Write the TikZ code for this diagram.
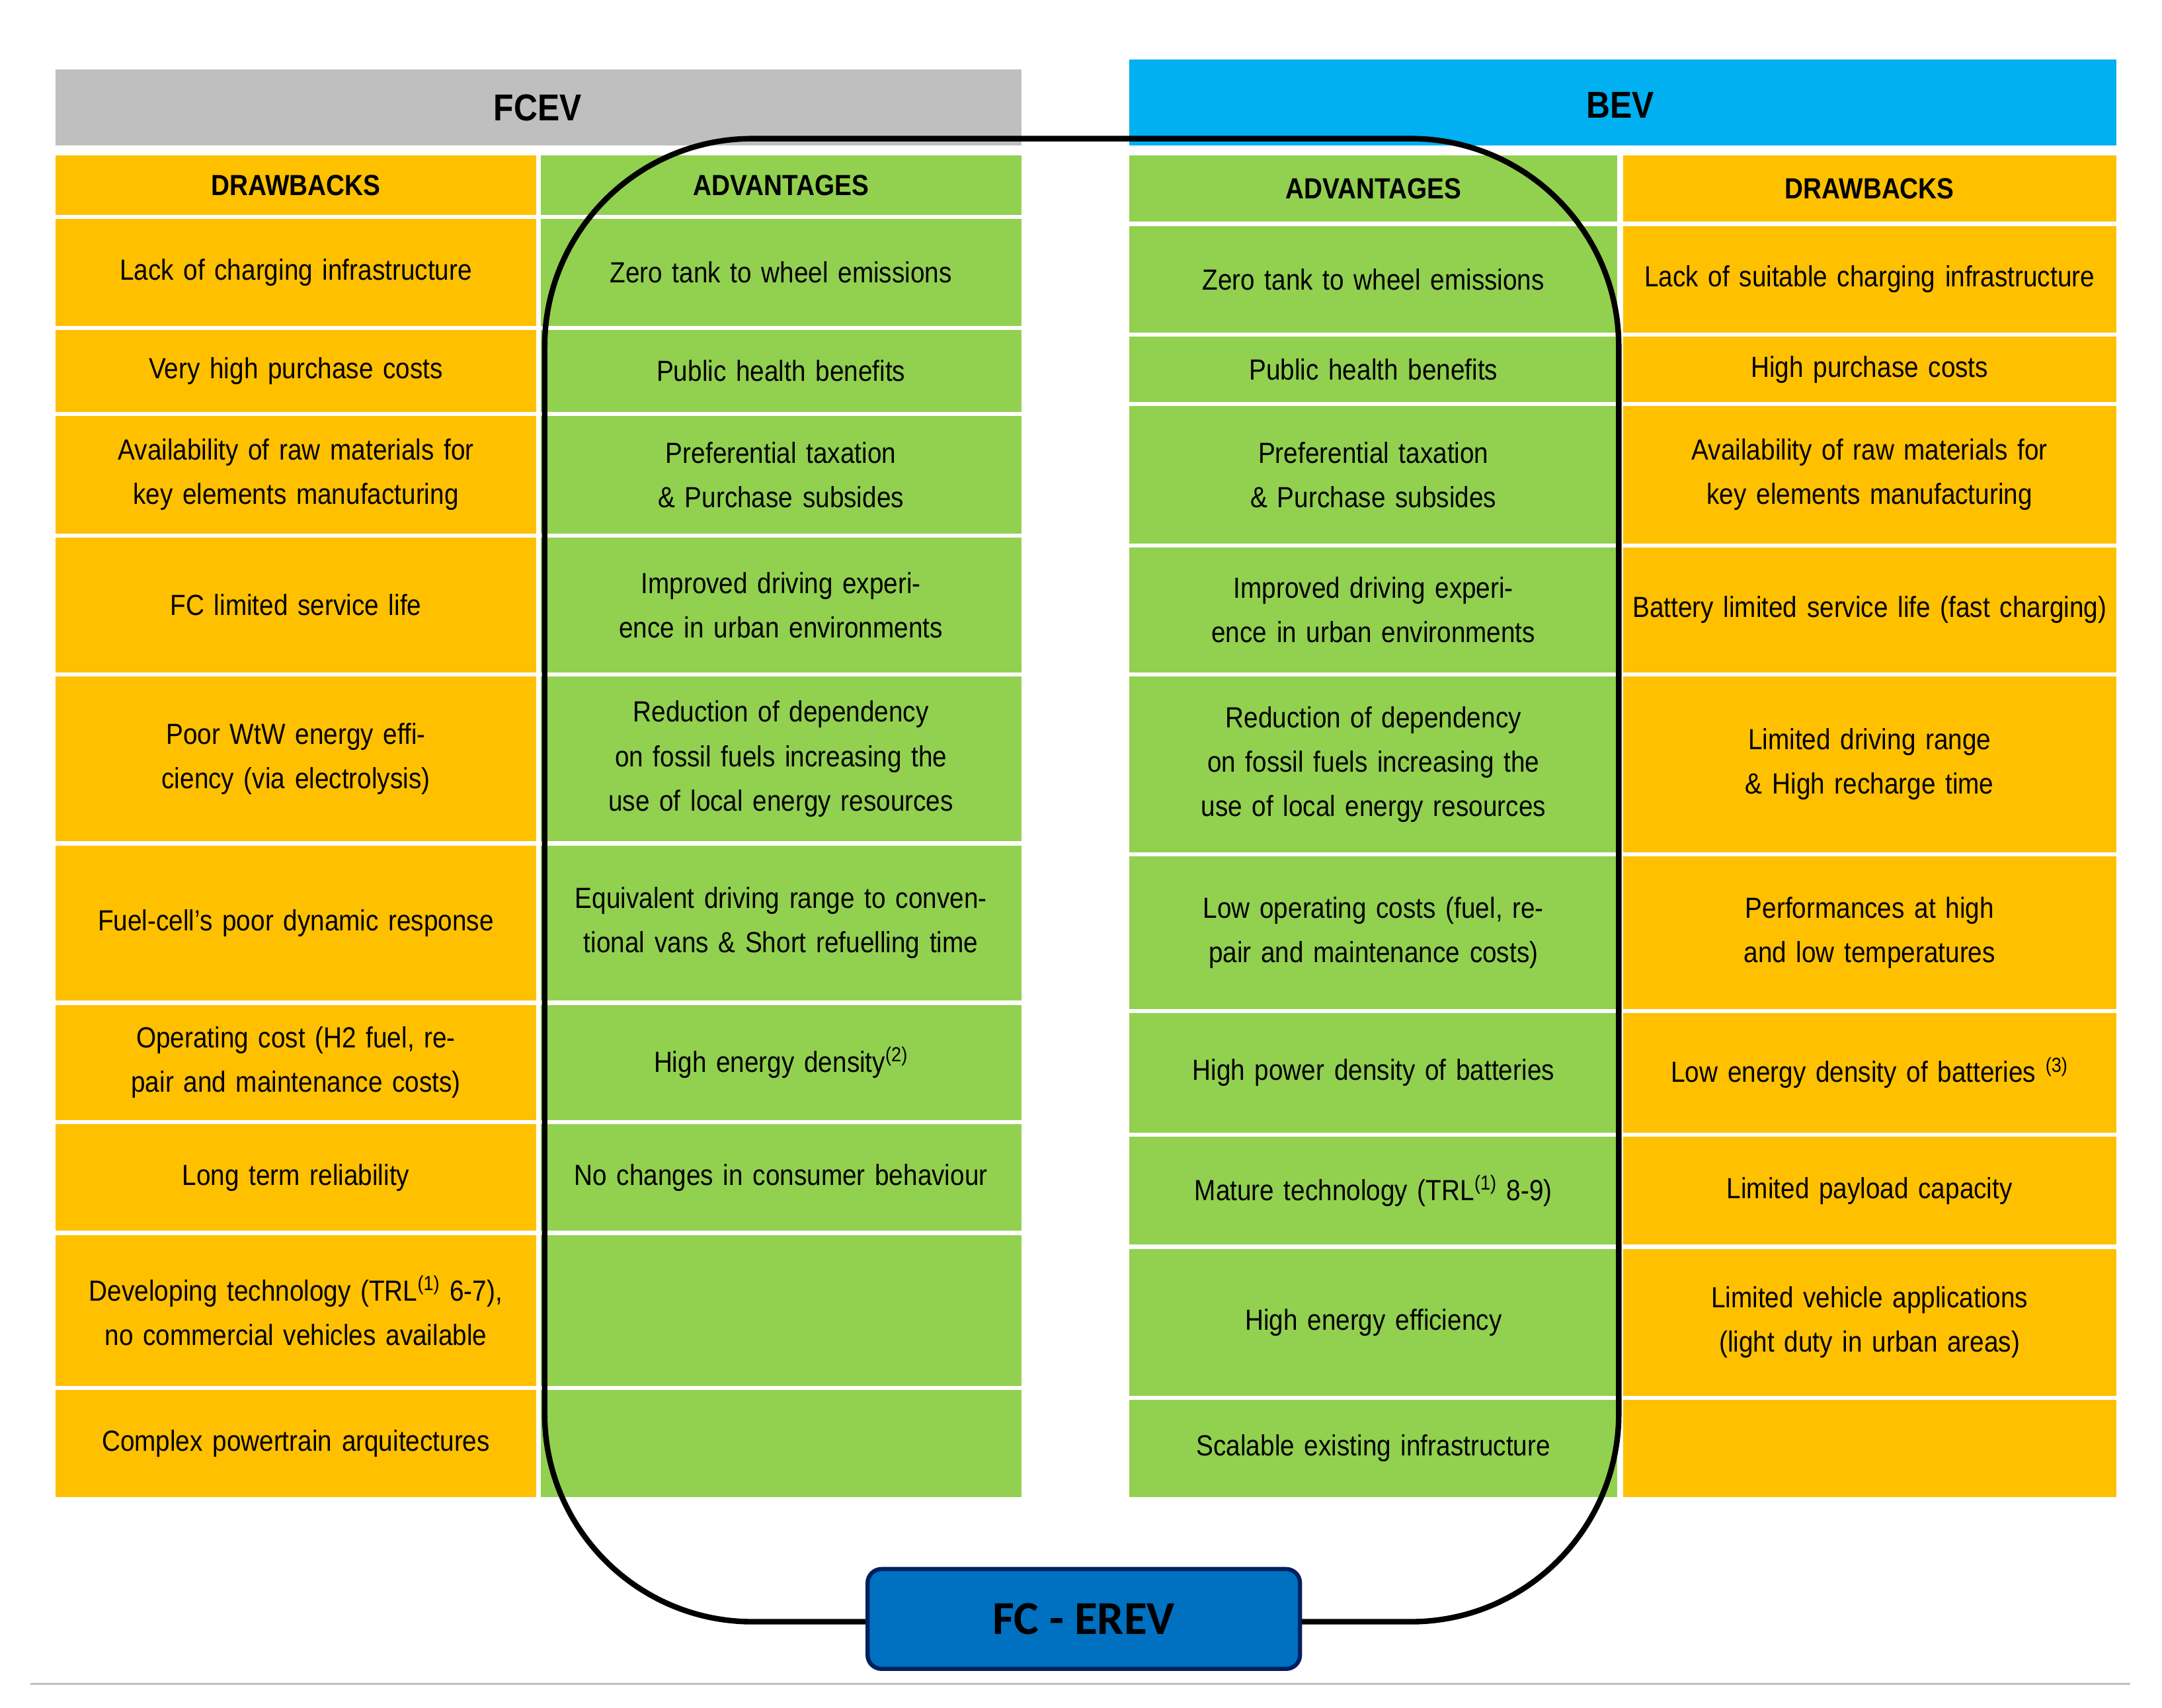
\documentclass[tikz,border=0pt]{standalone}
\usepackage{fontspec}
\setmainfont{Liberation Sans}[FakeStretch=0.88]
\newfontfamily\carl{Carlito}
\definecolor{org}{HTML}{FFC000}
\definecolor{grn}{HTML}{92D050}
\definecolor{gry}{HTML}{BFBFBF}
\definecolor{sky}{HTML}{00B0F0}
\definecolor{loop}{HTML}{1F6FBF}
\definecolor{box}{HTML}{0070C0}
\definecolor{navy}{HTML}{002060}
\newcommand{\mycell}[7]{\path[fill=#5] (#1pt,-#2pt) rectangle (#3pt,-#4pt);
 \node[txt,text width=#3pt-#1pt-10pt] (#6) at ({(#1+#3)/2*1pt},{-(#2+#4)/2*1pt}) {#7};}
\tikzset{txt/.style={align=center,font=\fontsize{21}{32}\selectfont,inner sep=0pt},
 hd/.style={font=\bfseries\fontsize{21}{26}\selectfont}}
\begin{document}
\begin{tikzpicture}[x=1pt,y=1pt]
\useasboundingbox[fill=white] (0,0) rectangle (1560,-1232);
\path[fill=gry] (40,-50) rectangle (737,-105);
\node[font=\bfseries\fontsize{27}{30}\selectfont] (fcev) at (388,-78) {FCEV};
\path[fill=sky] (815,-43) rectangle (1527,-105);
\node[font=\bfseries\fontsize{27}{30}\selectfont] (bev) at (1169,-76) {BEV};
% left drawbacks
\mycell{40}{112}{387}{155}{org}{ld0}{\bfseries DRAWBACKS}
\mycell{40}{158}{387}{235}{org}{ld1}{Lack of charging infrastructure}
\mycell{40}{238}{387}{297}{org}{ld2}{Very high purchase costs}
\mycell{40}{300}{387}{385}{org}{ld3}{Availability of raw materials for key elements manufacturing}
\mycell{40}{388}{387}{485}{org}{ld4}{FC limited service life}
\mycell{40}{488}{387}{607}{org}{ld5}{Poor WtW energy efficiency (via electrolysis)}
\mycell{40}{610}{387}{722}{org}{ld6}{Fuel-cell's poor dynamic response}
\mycell{40}{725}{387}{808}{org}{ld7}{Operating cost (H2 fuel, repair and maintenance costs)}
\mycell{40}{811}{387}{888}{org}{ld8}{Long term reliability}
\mycell{40}{891}{387}{1000}{org}{ld9}{Developing technology (TRL\textsuperscript{(1)} 6-7), no commercial vehicles available}
\mycell{40}{1003}{387}{1080}{org}{ld10}{Complex powertrain arquitectures}
% left advantages
\mycell{390}{112}{737}{155}{grn}{la0}{\bfseries ADVANTAGES}
\mycell{390}{158}{737}{235}{grn}{la1}{Zero tank to wheel emissions}
\mycell{390}{238}{737}{297}{grn}{la2}{Public health benefits}
\mycell{390}{300}{737}{385}{grn}{la3}{Preferential taxation \& Purchase subsides}
\mycell{390}{388}{737}{485}{grn}{la4}{Improved driving experience in urban environments}
\mycell{390}{488}{737}{607}{grn}{la5}{Reduction of dependency on fossil fuels increasing the use of local energy resources}
\mycell{390}{610}{737}{722}{grn}{la6}{Equivalent driving range to conventional vans \& Short refuelling time}
\mycell{390}{725}{737}{808}{grn}{la7}{High energy density\textsuperscript{(2)}}
\mycell{390}{811}{737}{888}{grn}{la8}{No changes in consumer behaviour}
\mycell{390}{891}{737}{1000}{grn}{la9}{}
\mycell{390}{1003}{737}{1080}{grn}{la10}{}
% right advantages
\mycell{815}{112}{1167}{160}{grn}{ra0}{\bfseries ADVANTAGES}
\mycell{815}{163}{1167}{240}{grn}{ra1}{Zero tank to wheel emissions}
\mycell{815}{243}{1167}{290}{grn}{ra2}{Public health benefits}
\mycell{815}{293}{1167}{392}{grn}{ra3}{Preferential taxation \& Purchase subsides}
\mycell{815}{395}{1167}{485}{grn}{ra4}{Improved driving experience in urban environments}
\mycell{815}{488}{1167}{615}{grn}{ra5}{Reduction of dependency on fossil fuels increasing the use of local energy resources}
\mycell{815}{618}{1167}{728}{grn}{ra6}{Low operating costs (fuel, repair and maintenance costs)}
\mycell{815}{731}{1167}{817}{grn}{ra7}{High power density of batteries}
\mycell{815}{820}{1167}{898}{grn}{ra8}{Mature technology (TRL\textsuperscript{(1)} 8-9)}
\mycell{815}{901}{1167}{1007}{grn}{ra9}{High energy efficiency}
\mycell{815}{1010}{1167}{1080}{grn}{ra10}{Scalable existing infrastructure}
% right drawbacks
\mycell{1171}{112}{1527}{160}{org}{rd0}{\bfseries DRAWBACKS}
\mycell{1171}{163}{1527}{240}{org}{rd1}{Lack of suitable charging infrastructure}
\mycell{1171}{243}{1527}{290}{org}{rd2}{High purchase costs}
\mycell{1171}{293}{1527}{392}{org}{rd3}{Availability of raw materials for key elements manufacturing}
\mycell{1171}{395}{1527}{485}{org}{rd4}{Battery limited service life (fast charging)}
\mycell{1171}{488}{1527}{615}{org}{rd5}{Limited driving range \ \& High recharge time}
\mycell{1171}{618}{1527}{728}{org}{rd6}{Performances at high and low temperatures}
\mycell{1171}{731}{1527}{817}{org}{rd7}{Low energy density of batteries \textsuperscript{(3)}}
\mycell{1171}{820}{1527}{898}{org}{rd8}{Limited payload capacity}
\mycell{1171}{901}{1527}{1007}{org}{rd9}{Limited vehicle applications (light duty in urban areas)}
\mycell{1171}{1010}{1527}{1080}{org}{rd10}{}
% loop
\draw[loop,line width=4pt,rounded corners=150pt] (393,-100) rectangle (1168,-1170);
\node[draw=navy,line width=3pt,fill=box,rounded corners=10pt,minimum width=312pt,minimum height=72pt,
 font=\carl\bfseries\fontsize{34}{36}\selectfont,text=black] (erev) at (782,-1168) {FC - EREV};
\draw[gry,line width=1.5pt] (22,-1215) -- (1537,-1215);
\end{tikzpicture}
\end{document}
